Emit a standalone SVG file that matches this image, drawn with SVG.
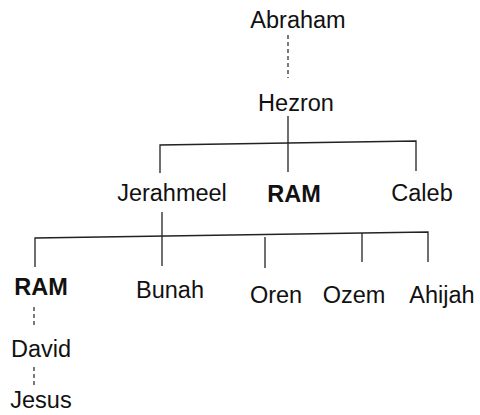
<svg xmlns="http://www.w3.org/2000/svg" width="480" height="415" viewBox="0 0 480 415">
<style>
text{font-family:"Liberation Sans",Arial,sans-serif;font-size:23.5px;fill:#111;text-anchor:middle}
.b{font-weight:bold}
.l{stroke:#222;stroke-width:1.3;fill:none}
.d{stroke:#222;stroke-width:1.2;fill:none;stroke-dasharray:4 3}
</style>
<rect width="480" height="415" fill="#fff"/>
<g id="connectors">
<line class="d" x1="288" y1="35" x2="288" y2="78"/>
<line class="l" x1="288" y1="116" x2="288" y2="172"/>
<polyline class="l" points="160,173 160,145 416,141 416,171"/>
<line class="l" x1="162" y1="212" x2="162" y2="266"/>
<polyline class="l" points="35,267 35,238 428,232 428,262"/>
<line class="l" x1="265" y1="237" x2="265" y2="268"/>
<line class="l" x1="362" y1="233" x2="362" y2="262"/>
<line class="d" x1="34" y1="307" x2="34" y2="326"/>
<line class="d" x1="34" y1="367" x2="34" y2="386"/>
</g>
<g id="abraham"><text x="298" y="28">Abraham</text></g>
<g id="hezron"><text x="296" y="111">Hezron</text></g>
<g id="jerahmeel"><text x="172" y="201">Jerahmeel</text></g>
<g id="ram1"><text class="b" x="294" y="202">RAM</text></g>
<g id="caleb"><text x="422" y="201">Caleb</text></g>
<g id="ram2"><text class="b" x="41" y="295">RAM</text></g>
<g id="bunah"><text x="170" y="298">Bunah</text></g>
<g id="oren"><text x="276" y="303">Oren</text></g>
<g id="ozem"><text x="354" y="303">Ozem</text></g>
<g id="ahijah"><text x="442" y="303">Ahijah</text></g>
<g id="david"><text x="41" y="357">David</text></g>
<g id="jesus"><text x="41" y="408">Jesus</text></g>
</svg>
